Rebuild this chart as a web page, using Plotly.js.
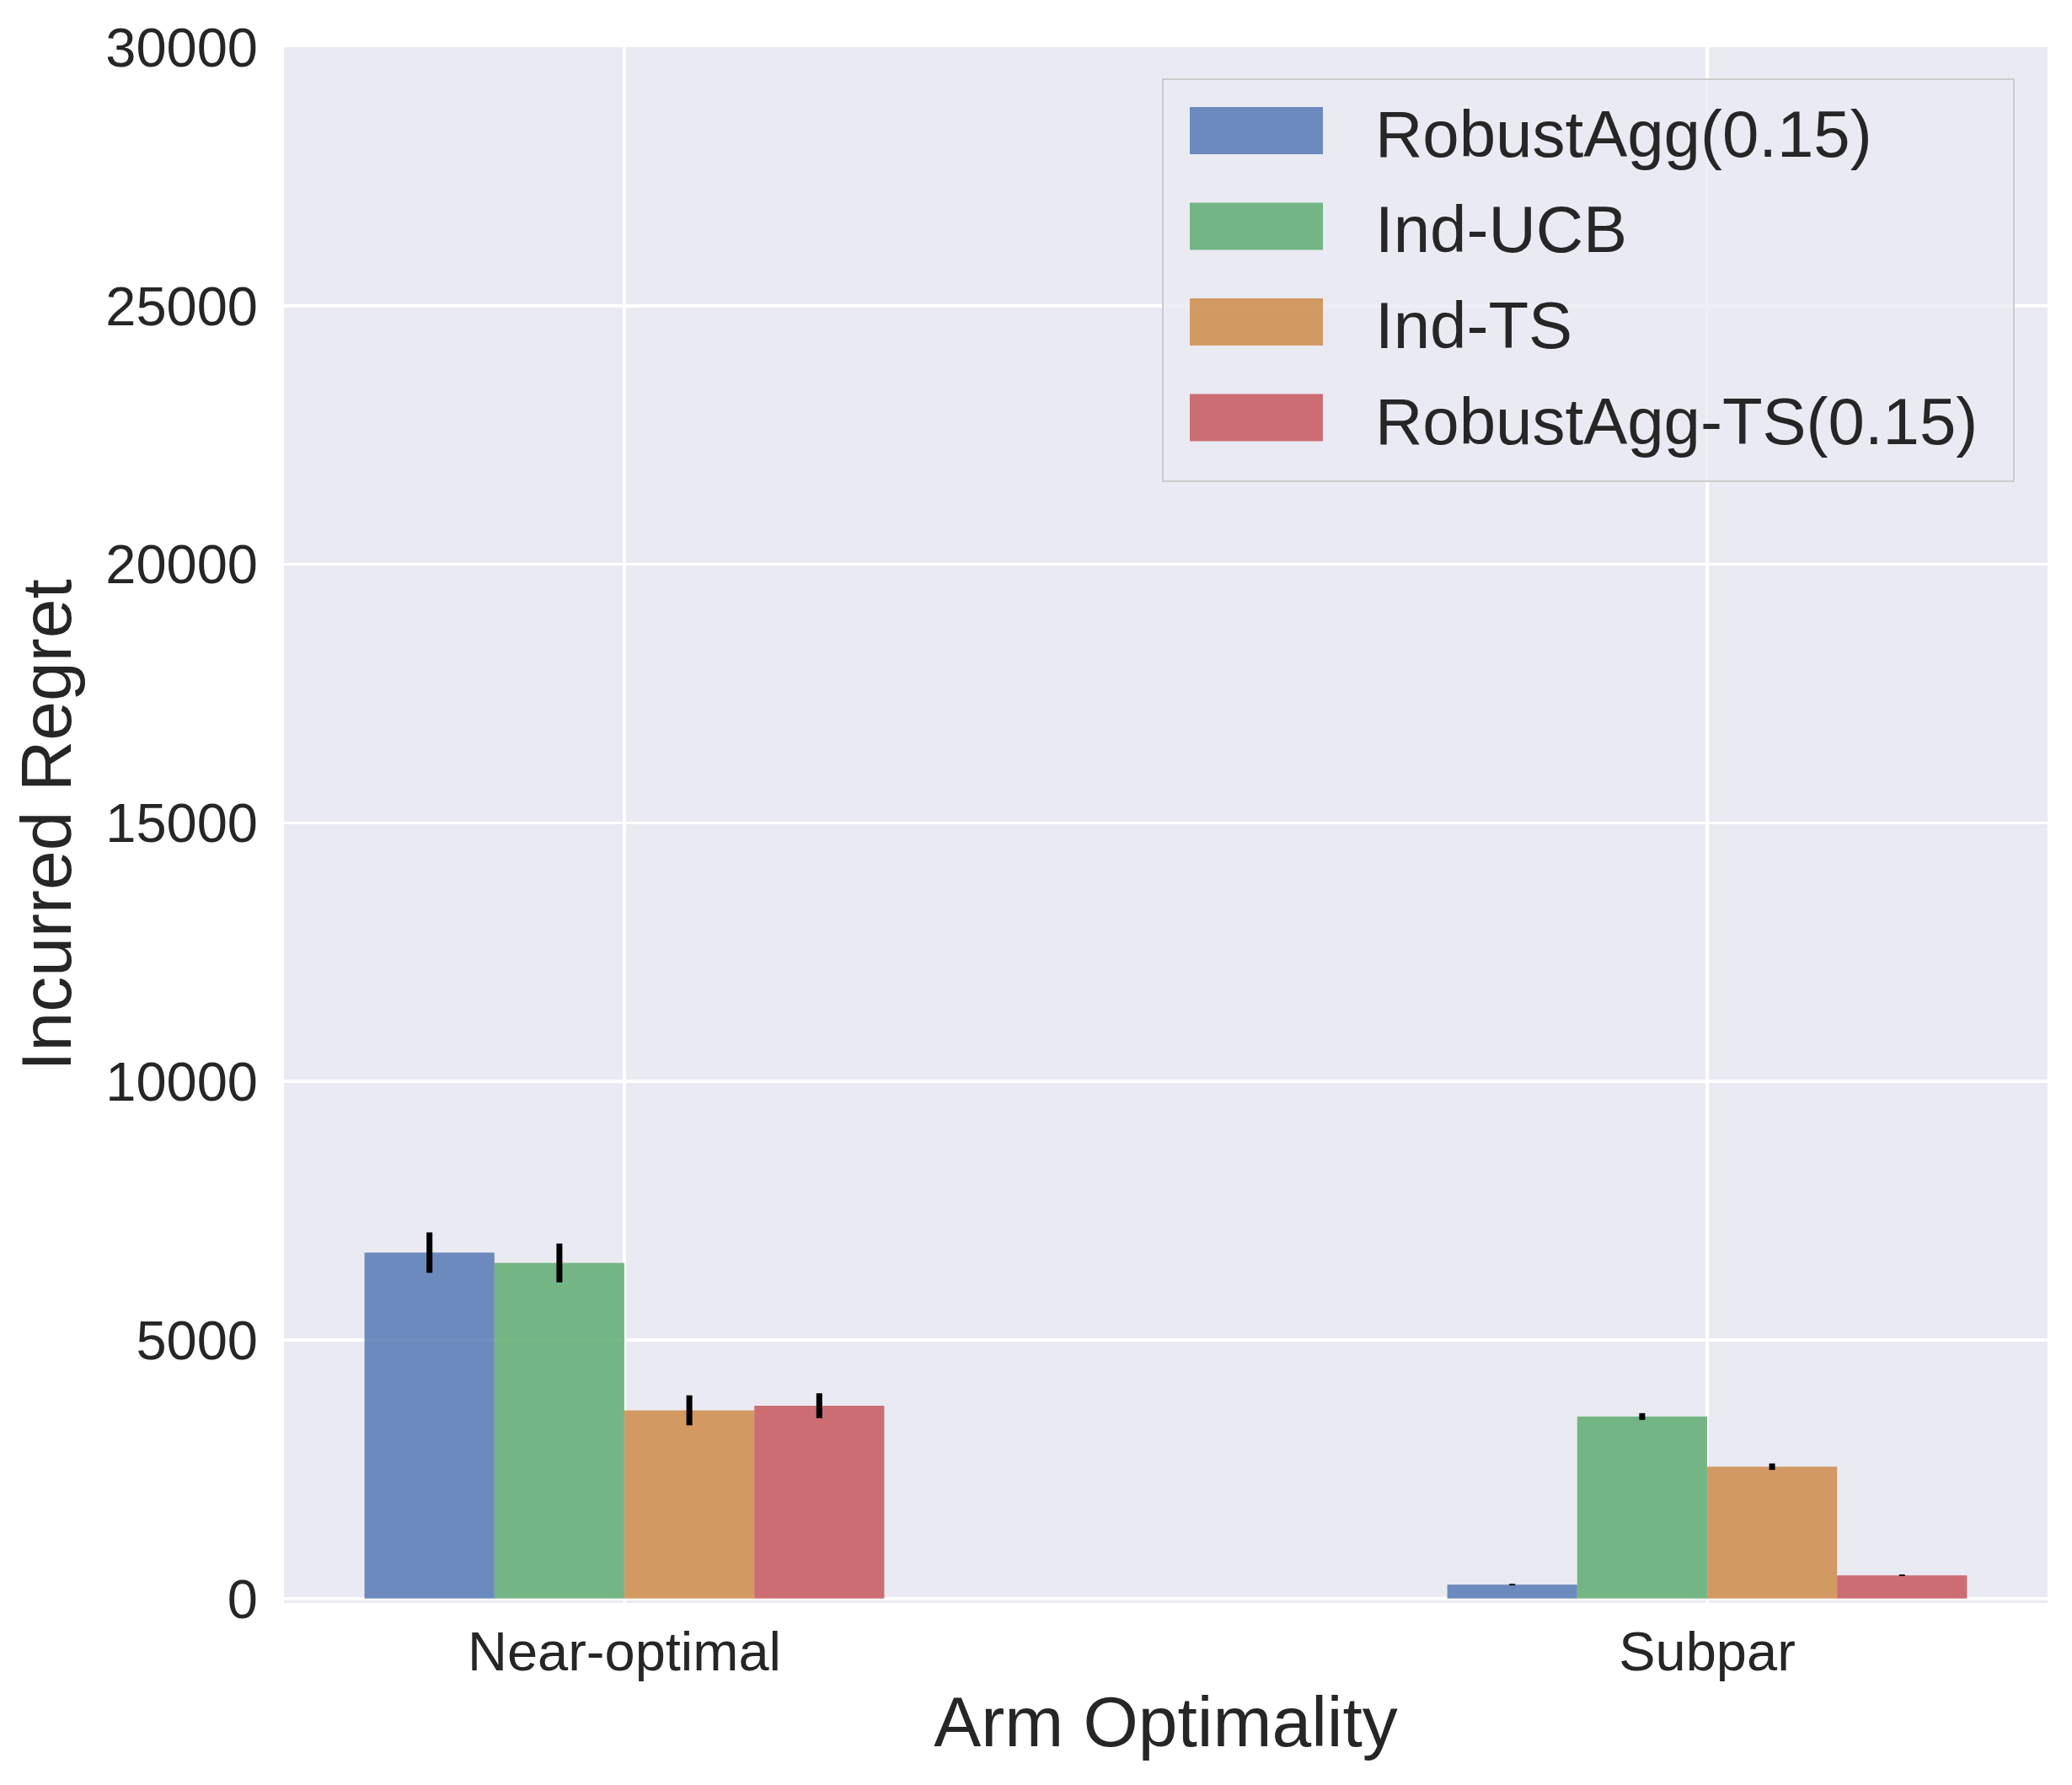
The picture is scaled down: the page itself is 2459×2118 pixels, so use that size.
<!DOCTYPE html>
<html>
<head>
<meta charset="utf-8">
<script src="https://cdn.plot.ly/plotly-3.0.1.min.js"></script>
<style>
  html, body { margin: 0; padding: 0; background: #fff; }
  #chart { width: 2459px; height: 2118px; }
</style>
</head>
<body>
<div id="chart"></div>
<script>
// values
const categories = ['Near-optimal', 'Subpar']
const seriesNames = ['RobustAgg(0.15)', 'Ind-UCB', 'Ind-TS', 'RobustAgg-TS(0.15)']
const robustAgg = [6690, 270]
const robustAggErr = [390, 15]
const indUcb = [6490, 3520]
const indUcbErr = [375, 65]
const indTs = [3640, 2550]
const indTsErr = [290, 62]
const robustAggTs = [3730, 450]
const robustAggTsErr = [240, 15]
const yTicks = [0, 5000, 10000, 15000, 20000, 25000, 30000]

const colors = ['#4C72B0', '#55A868', '#CD853F', '#C44E52']
const textColor = '#262626'
const font = 'Liberation Sans, Arial, sans-serif'

const W = 2459, H = 2118
const plotL = 337, plotR = 2430, plotT = 56, plotB = 1902

function px2x(x) { return (x - plotL) / (plotR - plotL) }
function px2y(y) { return (plotB - y) / (plotB - plotT) }

const values = [robustAgg, indUcb, indTs, robustAggTs]
const errors = [robustAggErr, indUcbErr, indTsErr, robustAggTsErr]

var data = []
for (let i = 0; i < seriesNames.length; i++) {
    data.push({
        type: 'bar',
        name: seriesNames[i],
        x: categories,
        y: values[i],
        marker: { color: colors[i], opacity: 0.8, line: { width: 0 } },
        error_y: {
            type: 'data',
            array: errors[i],
            visible: true,
            color: '#000000',
            thickness: 7,
            width: 0,
        },
        showlegend: false,
        hoverinfo: 'skip',
    })
}

// legend drawn by hand so the swatches keep the wide matplotlib look
var shapes = [{
    type: 'rect', xref: 'paper', yref: 'paper', layer: 'above',
    x0: px2x(1380), x1: px2x(2390), y0: px2y(571), y1: px2y(94),
    fillcolor: 'rgba(234,234,242,0.8)',
    line: { color: '#cccccc', width: 2 },
}]
var annotations = []
const rowTop = 155, rowStep = 113.5
for (let i = 0; i < seriesNames.length; i++) {
    let cy = rowTop + i * rowStep
    shapes.push({
        type: 'rect', xref: 'paper', yref: 'paper', layer: 'above',
        x0: px2x(1412), x1: px2x(1570), y0: px2y(cy + 28), y1: px2y(cy - 28),
        fillcolor: colors[i], opacity: 0.8,
        line: { width: 0 },
    })
    annotations.push({
        xref: 'paper', yref: 'paper',
        x: px2x(1630), y: px2y(cy + 4),
        xanchor: 'left', yanchor: 'middle',
        text: seriesNames[i], showarrow: false,
        font: { family: font, size: 78, color: textColor },
    })
}

var layout = {
    width: W,
    height: H,
    paper_bgcolor: '#ffffff',
    plot_bgcolor: '#EAEAF2',
    font: { family: font, color: textColor, size: 65 },
    margin: { l: plotL, r: W - plotR, t: plotT, b: H - plotB, pad: 0 },
    barmode: 'group',
    bargap: 0.52,
    bargroupgap: 0,
    showlegend: false,
    xaxis: {
        type: 'category',
        range: [-0.3144, 1.3144],
        showgrid: true,
        gridcolor: '#ffffff',
        gridwidth: 3.5,
        showline: false,
        zeroline: false,
        ticks: '',
        ticklabelstandoff: 14,
        tickfont: { size: 65, color: textColor },
        title: { text: 'Arm Optimality', font: { size: 84, color: textColor }, standoff: 18 },
    },
    yaxis: {
        range: [-85, 30000],
        tickvals: yTicks,
        tickformat: 'd',
        showgrid: true,
        gridcolor: '#ffffff',
        gridwidth: 3.5,
        zeroline: true,
        zerolinecolor: '#ffffff',
        zerolinewidth: 3.5,
        showline: false,
        ticks: '',
        ticklabelstandoff: 30,
        tickfont: { size: 65, color: textColor },
        title: { text: 'Incurred Regret', font: { size: 84, color: textColor }, standoff: 12 },
    },
    shapes: shapes,
    annotations: annotations,
}

Plotly.newPlot('chart', data, layout, { staticPlot: true, displayModeBar: false })
</script>
</body>
</html>
